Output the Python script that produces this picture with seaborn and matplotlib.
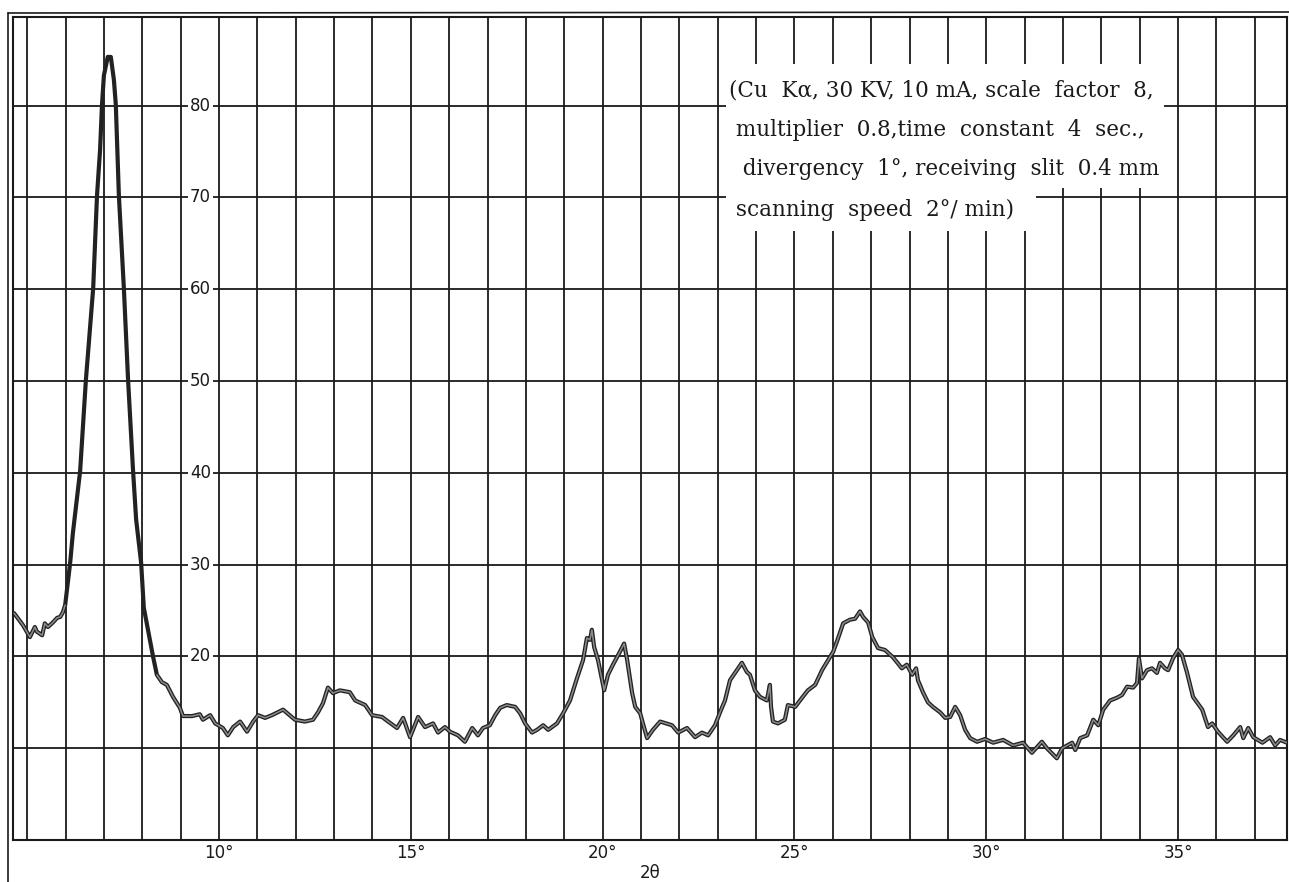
import matplotlib

matplotlib.use("Agg")

import matplotlib.pyplot as plt
import numpy as np
import seaborn as sns
from matplotlib.lines import Line2D
from matplotlib.patches import Polygon

sns.set_style("white")
plt.rcParams["font.family"] = ["DejaVu Sans"]

# diffractogram trace (2theta in degrees, intensity in chart units)
two_theta = [
    4.66, 4.89, 5.07, 5.2, 5.25, 5.39, 5.46, 5.54, 5.67, 5.78, 5.86, 5.93, 5.99,
    6.12, 6.19, 6.38, 6.53, 6.72, 6.82, 6.9, 6.95, 7.0, 7.1, 7.18, 7.26, 7.31,
    7.39, 7.52, 7.63, 7.76, 7.84, 7.97, 8.04,
    8.2, 8.28, 8.38, 8.51, 8.64, 8.8, 8.98, 9.06, 9.3, 9.5, 9.58, 9.77, 9.9, 10.1,
    10.23, 10.37, 10.55, 10.73, 10.89, 11.02, 11.2, 11.38, 11.67, 11.98, 12.24,
    12.45, 12.58, 12.71, 12.84, 12.97, 13.15, 13.41, 13.55, 13.81, 13.99, 14.25,
    14.41, 14.64, 14.8, 14.98, 15.19, 15.37, 15.58, 15.71, 15.89,
    16.02, 16.23, 16.41, 16.6, 16.75, 16.88, 17.06, 17.2, 17.33, 17.5, 17.72,
    17.85, 17.98, 18.16, 18.29, 18.45, 18.58, 18.81, 18.97, 19.15, 19.33, 19.49,
    19.59, 19.67, 19.72, 19.78, 19.88, 20.04, 20.14, 20.27, 20.45, 20.56, 20.64,
    20.77, 20.85, 20.98, 21.05, 21.16, 21.31, 21.5,
    21.81, 21.97, 22.2, 22.41, 22.59, 22.75, 22.93, 23.06, 23.19, 23.32, 23.5,
    23.63, 23.76, 23.84, 23.97, 24.1, 24.28, 24.36, 24.39, 24.44, 24.57, 24.75,
    24.83, 25.02, 25.2, 25.35, 25.54, 25.72, 25.88, 26.01, 26.14, 26.27, 26.45,
    26.58, 26.71, 26.79, 26.92, 27.03, 27.18, 27.36, 27.57, 27.8, 27.93, 28.07,
    28.17, 28.22, 28.35, 28.48, 28.61, 28.8, 28.93, 29.06, 29.19, 29.32, 29.45,
    29.58, 29.76, 29.97, 30.18, 30.44, 30.7, 30.96, 31.19, 31.45, 31.58, 31.84,
    31.98, 32.24, 32.32, 32.45, 32.63, 32.79, 32.92, 33.05, 33.23, 33.41, 33.54,
    33.67, 33.83, 33.93, 33.98, 34.06, 34.19, 34.32, 34.45, 34.53, 34.66, 34.74,
    34.87, 35.0, 35.1, 35.23, 35.39, 35.63, 35.78, 35.89, 36.04, 36.28, 36.44,
    36.62, 36.7, 36.83, 36.96, 37.2, 37.4, 37.53, 37.66, 37.84,
]
intensity = [
    24.7, 23.4, 22.1, 23.2, 22.7, 22.3, 23.6, 23.2, 23.7, 24.2, 24.3, 24.8, 25.6,
    30.2, 33.4, 40.2, 50.1, 60.1, 70.2, 75.2, 80.1, 83.3, 85.3, 85.3, 82.8, 80.1,
    70.2, 60.1, 50.1, 40.2, 34.9, 30.2, 25.3,
    21.8, 20.0, 18.0, 17.2, 16.9, 15.6, 14.4, 13.5, 13.5, 13.7, 13.1, 13.6, 12.7, 12.2,
    11.4, 12.3, 12.9, 11.8, 12.9, 13.6, 13.3, 13.6, 14.2, 13.1, 12.9,
    13.1, 13.9, 14.9, 16.6, 16.0, 16.3, 16.1, 15.2, 14.7, 13.6, 13.4,
    12.9, 12.2, 13.3, 11.2, 13.4, 12.3, 12.7, 11.7, 12.3,
    11.8, 11.4, 10.7, 12.2, 11.4, 12.2, 12.5, 13.6, 14.4, 14.7, 14.5,
    13.8, 12.7, 11.7, 12.0, 12.5, 12.0, 12.7, 13.8, 15.2, 17.6, 19.6,
    22.0, 21.8, 22.9, 21.0, 19.6, 16.3, 18.0, 19.1, 20.5, 21.4, 19.6,
    16.0, 14.5, 13.8, 12.7, 11.1, 12.0, 12.9,
    12.5, 11.7, 12.2, 11.2, 11.7, 11.4, 12.5, 13.9, 15.2, 17.4, 18.5,
    19.3, 18.3, 18.0, 16.3, 15.6, 15.2, 16.9, 14.5, 12.9, 12.7, 13.1,
    14.7, 14.5, 15.5, 16.3, 16.9, 18.5, 19.6, 20.5, 22.0, 23.6, 24.0,
    24.1, 24.9, 24.3, 23.7, 22.1, 20.9, 20.7, 19.9, 18.7, 19.1, 18.0,
    18.7, 17.4, 16.1, 15.0, 14.5, 13.9, 13.3, 13.4, 14.5, 13.6, 12.0,
    11.1, 10.7, 11.0, 10.6, 10.9, 10.3, 10.6, 9.5, 10.7, 10.0, 8.9,
    10.0, 10.6, 9.8, 11.1, 11.4, 13.1, 12.5, 14.2, 15.2, 15.5, 15.8,
    16.7, 16.6, 17.1, 19.8, 17.6, 18.5, 18.7, 18.2, 19.3, 18.7, 18.5,
    19.8, 20.7, 20.2, 18.3, 15.6, 14.2, 12.3, 12.7, 11.8, 10.7, 11.4,
    12.3, 11.1, 12.2, 11.2, 10.6, 11.2, 10.3, 10.9, 10.6,
]
assert len(two_theta) == len(intensity)

x_ticks = list(range(5, 38))
x_tick_labels = [f"{d}\u00b0" if d % 5 == 0 and d >= 10 else "" for d in x_ticks]
y_ticks = [10, 20, 30, 40, 50, 60, 70, 80]
y_labels = [20, 30, 40, 50, 60, 70, 80]

conditions = [
    "(Cu  K\u03b1, 30 KV, 10 mA, scale  factor  8,",
    " multiplier  0.8,time  constant  4  sec.,",
    "  divergency  1\u00b0, receiving  slit  0.4 mm",
    " scanning  speed  2\u00b0/ min)",
]

fig = plt.figure(figsize=(12.89, 8.82), dpi=100)
ax = fig.add_axes([13 / 1289, 1 - 840 / 882, 1274 / 1289, 823 / 882])

ink = "#1a1a1a"
ax.set_xlim(4.63, 37.84)
ax.set_ylim(0, 89.65)
ax.set_xticks(x_ticks)
ax.set_xticklabels(x_tick_labels, fontsize=12, color=ink)
ax.set_yticks(y_ticks)
ax.set_yticklabels([])
ax.tick_params(length=0, pad=3)
ax.grid(True, color=ink, linewidth=1.3)
ax.set_axisbelow(True)
for spine in ax.spines.values():
    spine.set_color(ink)
    spine.set_linewidth(1.5)

# recorder trace: dark pen line with a grey core where the signal is noisy
sns.lineplot(x=two_theta, y=intensity, sort=False, estimator=None,
             color="#222222", linewidth=3.0, ax=ax, zorder=4)
tt = np.array(two_theta)
core = np.where((tt < 6.05) | (tt > 8.3), np.array(intensity), np.nan)
ax.plot(tt, core, color="#8c8c8c", linewidth=1.1, zorder=5)

for v in y_labels:
    ax.text(9.52, v, str(v), ha="center", va="center", fontsize=12, color=ink,
            zorder=3, bbox=dict(facecolor="white", edgecolor="none", pad=1.5))

ax.set_xlabel("2\u03b8", fontsize=12, color=ink, labelpad=1)

# blank paper under the measurement conditions
W, H = 1289, 882
blank = [(726, 64), (1164, 64), (1164, 188), (1036, 188), (1036, 231), (726, 231)]
fig.add_artist(Polygon([(px / W, 1 - py / H) for px, py in blank], closed=True,
                       transform=fig.transFigure, facecolor="white",
                       edgecolor="none", zorder=5))

y_pos = [90, 130, 169, 210]
for line, yp in zip(conditions, y_pos):
    fig.text(729 / W, 1 - yp / H, line, ha="left", va="center",
             fontsize=15.5, family="DejaVu Serif", color=ink, zorder=6)

# outer border of the chart paper
fig.add_artist(Line2D([8 / W, 8 / W], [0, 1 - 13 / H],
                      transform=fig.transFigure, color=ink, linewidth=1.2))
fig.add_artist(Line2D([8 / W, 1], [1 - 13 / H, 1 - 12 / H],
                      transform=fig.transFigure, color=ink, linewidth=1.2))

fig.savefig("out.png", dpi=100, facecolor="white")
plt.close(fig)
